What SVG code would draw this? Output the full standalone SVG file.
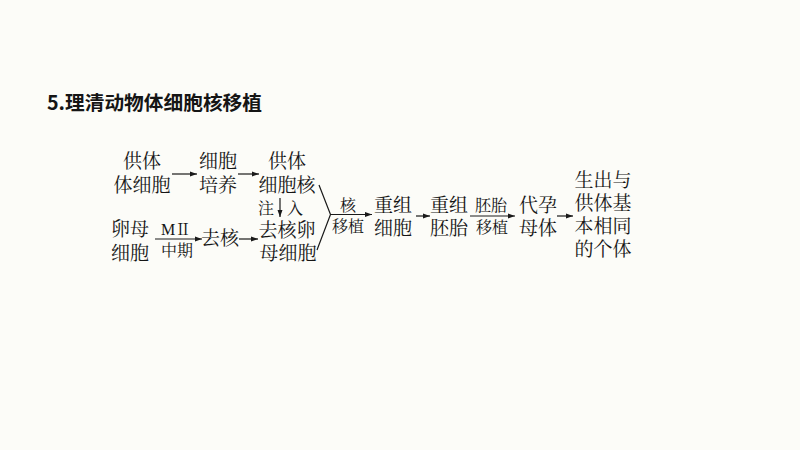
<svg xmlns="http://www.w3.org/2000/svg" width="800" height="450" viewBox="0 0 800 450">
  <defs>
    <marker id="ah" markerUnits="userSpaceOnUse" markerWidth="8" markerHeight="6" refX="7" refY="3" orient="auto">
      <path d="M0,0.5 L7,3 L0,5.5 Z" fill="#1a1a1a"/>
    </marker>
  </defs>
  <style>
    text { font-family: "Noto Serif CJK SC", "Noto Sans CJK SC", serif; fill: #151515; }
    .t { font-size: 19px; text-anchor: middle; }
    .s { font-size: 16px; text-anchor: middle; }
    .title { font-family: "Noto Sans CJK SC", "Noto Sans", sans-serif; font-size: 19.5px; font-weight: bold; }
    .c { fill: none; stroke: #1a1a1a; stroke-width: 1.2; }
  </style>
  <rect width="800" height="450" fill="#fcfcf8"/>
  <text class="title" x="47" y="110" textLength="215" lengthAdjust="spacingAndGlyphs">5.理清动物体细胞核移植</text>

  <g id="donor-cell">
    <text class="t"><tspan x="142" y="168">供体</tspan><tspan x="142" y="192">体细胞</tspan></text>
  </g>
  <g id="culture">
    <text class="t"><tspan x="218" y="168">细胞</tspan><tspan x="218" y="192">培养</tspan></text>
  </g>
  <g id="donor-nucleus">
    <text class="t"><tspan x="287" y="168">供体</tspan><tspan x="287" y="192">细胞核</tspan></text>
  </g>
  <g id="egg">
    <text class="t"><tspan x="130" y="236">卵母</tspan><tspan x="130" y="259.5">细胞</tspan></text>
  </g>
  <g id="enucleate">
    <text class="t" x="220" y="245">去核</text>
  </g>
  <g id="enucleated-egg">
    <text class="t"><tspan x="287" y="237">去核卵</tspan><tspan x="288" y="260">母细胞</tspan></text>
  </g>
  <g id="recon-cell">
    <text class="t"><tspan x="393" y="212">重组</tspan><tspan x="393" y="235">细胞</tspan></text>
  </g>
  <g id="recon-embryo">
    <text class="t"><tspan x="449" y="212">重组</tspan><tspan x="449" y="235">胚胎</tspan></text>
  </g>
  <g id="surrogate">
    <text class="t"><tspan x="538" y="212">代孕</tspan><tspan x="538" y="235">母体</tspan></text>
  </g>
  <g id="offspring">
    <text class="t"><tspan x="603" y="187">生出与</tspan><tspan x="603" y="210">供体基</tspan><tspan x="603" y="233">本相同</tspan><tspan x="603" y="256">的个体</tspan></text>
  </g>

  <g id="connectors">
    <line class="c" x1="172" y1="174" x2="197" y2="174" marker-end="url(#ah)"/>
    <line class="c" x1="238" y1="174" x2="259" y2="174" marker-end="url(#ah)"/>
    <line class="c" x1="155" y1="239" x2="202" y2="239" marker-end="url(#ah)"/>
    <line class="c" x1="239" y1="239" x2="258" y2="239" marker-end="url(#ah)"/>
    <line class="c" x1="280" y1="198" x2="280" y2="217" marker-end="url(#ah)"/>
    <polyline class="c" points="319,185 330.5,214.5 317,250"/>
    <line class="c" x1="330.5" y1="214.5" x2="372" y2="214.5" marker-end="url(#ah)"/>
    <line class="c" x1="416" y1="216" x2="430" y2="216" marker-end="url(#ah)"/>
    <line class="c" x1="470" y1="216" x2="515" y2="216" marker-end="url(#ah)"/>
    <line class="c" x1="557" y1="216" x2="573" y2="216" marker-end="url(#ah)"/>
    <g id="labels">
      <text class="s"><tspan x="266" y="214">注</tspan><tspan x="295" y="214">入</tspan></text>
      <text class="s"><tspan x="176" y="235"><tspan font-family="Liberation Serif, serif">M</tspan>Ⅱ</tspan><tspan x="177" y="256">中期</tspan></text>
      <text class="s"><tspan x="348" y="211">核</tspan><tspan x="348" y="231.5">移植</tspan></text>
      <text class="s"><tspan x="491" y="211">胚胎</tspan><tspan x="492" y="233">移植</tspan></text>
    </g>
  </g>
</svg>
